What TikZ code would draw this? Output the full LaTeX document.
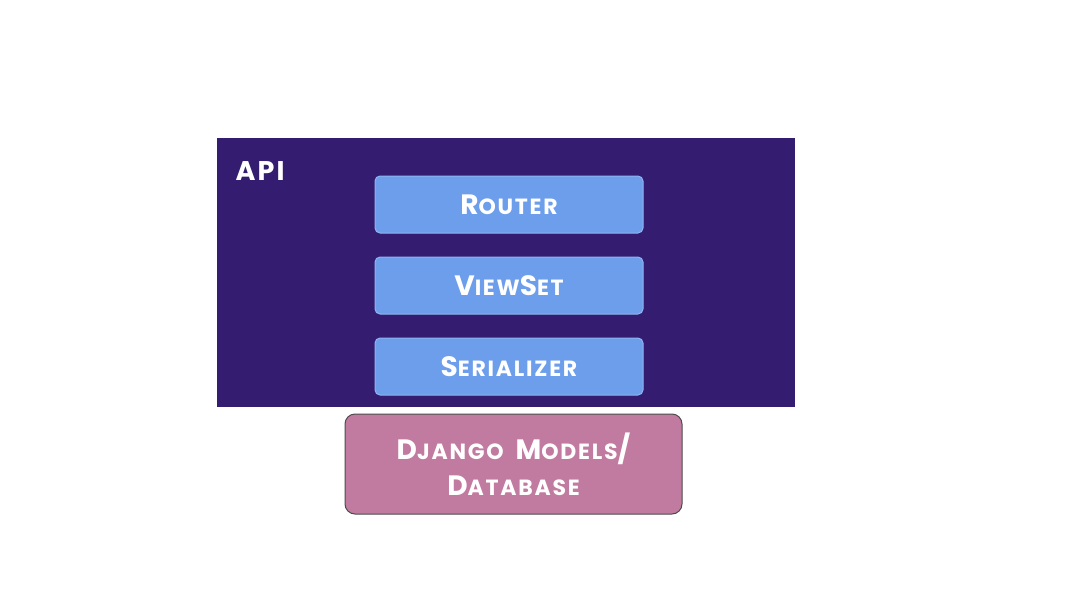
\documentclass[tikz,border=0pt]{standalone}
\usepackage{fontspec}
\setmainfont{Poppins}[LetterSpace=8]
\definecolor{apibg}{HTML}{341C70}
\definecolor{boxbl}{HTML}{6D9EEB}
\definecolor{boxbd}{HTML}{8FB4F0}
\definecolor{djbg}{HTML}{C27BA0}
\newcommand{\fsc}[2]{{\fontsize{28}{30}\selectfont #1}{\fontsize{22}{24}\selectfont #2}}
\tikzset{
  layer/.style={fill=boxbl,draw=boxbd,line width=1pt,rounded corners=5pt,text=white,font=\bfseries},
}
\begin{document}
\begin{tikzpicture}[x=1pt,y=-1pt]
\useasboundingbox (0,0) rectangle (1066,600);
\fill[white] (0,0) rectangle (1066,600);
\node[fill=apibg,minimum width=578,minimum height=269,inner sep=0,anchor=north west] (api) at (217,138) {};
\node[text=white,font=\bfseries\fontsize{27}{30}\selectfont,anchor=west] (apil) at (232,171) {API};
\node[layer,minimum width=268,minimum height=57,inner sep=0] (router) at (509,204.5) {\fsc{R}{OUTER}};
\node[layer,minimum width=268,minimum height=57,inner sep=0] (viewset) at (509,285.5) {\fsc{V}{IEW}\fsc{S}{ET}};
\node[layer,minimum width=268,minimum height=57,inner sep=0] (ser) at (509,366.5) {\fsc{S}{ERIALIZER}};
\node[fill=djbg,draw=black!70,line width=1pt,rounded corners=10pt,minimum width=337,minimum height=100,inner sep=0,text=white,font=\bfseries,align=center] (dj) at (513.5,464) {\fsc{D}{JANGO}\hspace{12pt}\fsc{M}{ODELS}{\fontsize{28}{30}\selectfont/}\\[10pt]\fsc{D}{ATABASE}};
\end{tikzpicture}
\end{document}
